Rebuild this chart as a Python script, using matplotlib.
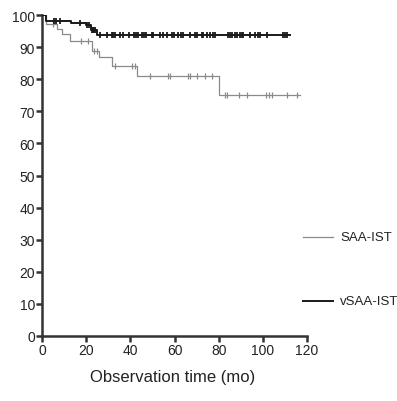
import numpy as np
import matplotlib
matplotlib.use("Agg")
import matplotlib.pyplot as plt
from matplotlib.lines import Line2D

plt.rcParams['font.family'] = ['Liberation Sans', 'DejaVu Sans']

# SAA-IST (grey, thin)
saa_times = [0, 2, 7, 9, 12.5, 22.5, 26, 31.5, 43, 80]
saa_surv = [100, 97.2, 95.6, 94.1, 91.8, 88.9, 86.8, 84.2, 81.1, 75.2]
saa_end = 117
saa_censor = [5, 17.7, 21, 23.7, 24.8, 33, 40.6, 42.1, 49, 57, 57.8, 66, 67, 70,
              74, 77, 83, 83.8, 89, 93, 101.5, 103, 104, 111, 115.5]

# vSAA-IST (black, thick)
vsaa_times = [0, 2, 13, 20, 22, 25]
vsaa_surv = [100, 98.2, 97.5, 96.8, 95.2, 93.7]
vsaa_end = 112.5
vsaa_censor = [5.4, 6.3, 8, 17, 20.5, 21.5, 22.5, 23, 23.5, 24,
               26.3, 29.3, 31.6, 32.3, 33.1, 35.3, 36.6, 39.5, 41.7, 42.6, 43.5,
               45.1, 46.2, 47.1, 49.6, 50.4, 53.4, 54.7, 56.5, 58.7, 59.8, 61.7,
               62.8, 64.0, 67.0, 69.3, 70.3, 72.3, 73.0, 74.9, 76.1, 77.3, 78.4,
               84.4, 85.1, 85.9, 87.4, 88.2, 89.7, 90.4, 90.9, 94.2, 96.5, 98.0,
               98.7, 101.8, 109.3, 110.1, 111.1]

x_ticks = [0, 20, 40, 60, 80, 100, 120]
y_ticks = [0, 10, 20, 30, 40, 50, 60, 70, 80, 90, 100]
labels = ['SAA-IST', 'vSAA-IST']
xlabel = 'Observation time (mo)'


def surv_at(times, surv, t):
    idx = np.searchsorted(times, t, side='right') - 1
    return np.array(surv)[idx]


fig = plt.figure(figsize=(3.97, 4.02), dpi=100)
ax = fig.add_axes([0.1058, 0.1617, 0.7733 - 0.1058, 0.960 - 0.1617])

grey = '#8a8a8a'
black = '#1a1a1a'

ax.step(saa_times + [saa_end], saa_surv + [saa_surv[-1]], where='post',
        color=grey, lw=0.9, zorder=2)
ax.plot(saa_censor, surv_at(saa_times, saa_surv, saa_censor), ls='none',
        marker='|', ms=4, mew=0.9, color=grey, zorder=2)

ax.step(vsaa_times + [vsaa_end], vsaa_surv + [vsaa_surv[-1]], where='post',
        color=black, lw=1.4, zorder=3)
ax.plot(vsaa_censor, surv_at(vsaa_times, vsaa_surv, vsaa_censor), ls='none',
        marker='|', ms=5, mew=1.3, color=black, zorder=3)

ax.set_xlim(0, 120)
ax.set_ylim(0, 100)
ax.set_xticks(x_ticks)
ax.set_yticks(y_ticks)
for s in ['top', 'right']:
    ax.spines[s].set_visible(False)
for s in ['left', 'bottom']:
    ax.spines[s].set_linewidth(1.8)
    ax.spines[s].set_color('#333333')
ax.tick_params(axis='both', direction='out', length=4, width=1.8,
               color='#333333', labelsize=10, labelcolor='#222222', pad=1)

fig.text(0.435, 0.06, xlabel, ha='center', va='center', fontsize=12, color='#222222')

# legend
for lab, col, lw, ypx in [(labels[0], grey, 0.9, 238), (labels[1], black, 1.4, 302)]:
    yf = 1 - ypx / 402
    fig.add_artist(Line2D([303 / 397, 333 / 397], [yf, yf], color=col, lw=lw))
    fig.text(340 / 397, yf, lab, ha='left', va='center', fontsize=9.5, color='#222222')

fig.savefig('out.png', dpi=100)
